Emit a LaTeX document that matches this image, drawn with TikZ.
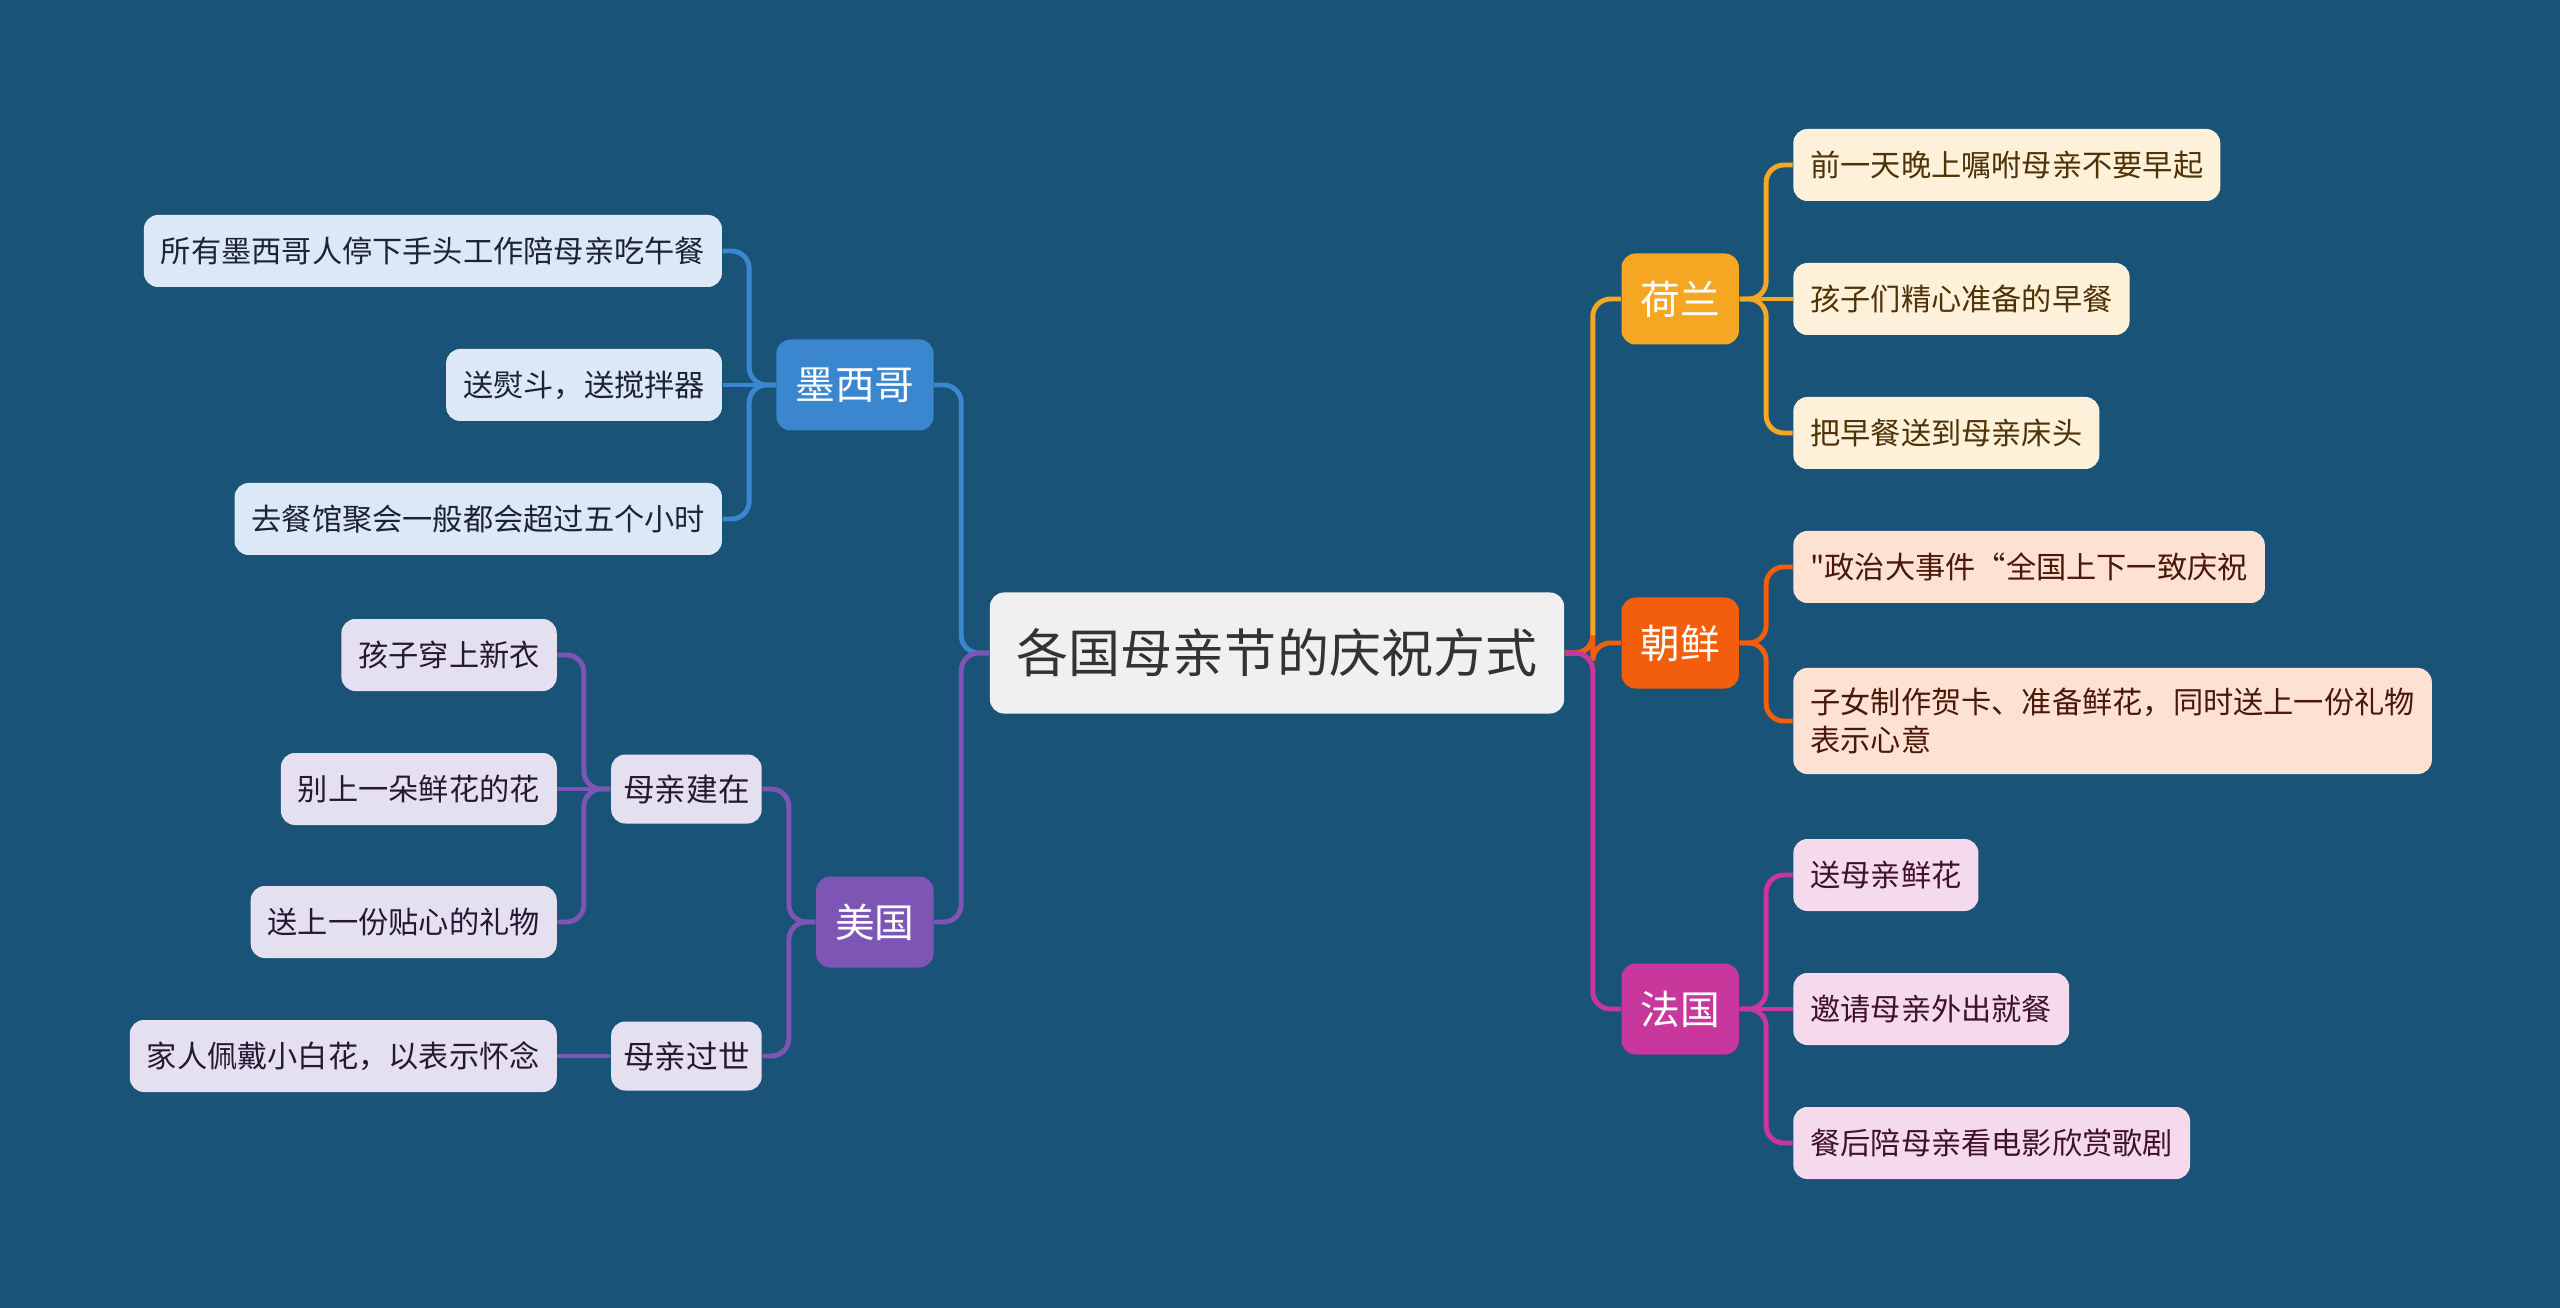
\documentclass[tikz,border=0pt]{standalone}
\usepackage{fontspec}
\setmainfont{Noto Sans CJK SC}[Ligatures=TeXOff]
\usetikzlibrary{positioning}

\definecolor{bg}{HTML}{1A5378}
\definecolor{rootgray}{HTML}{F0F0F0}
\definecolor{rootink}{HTML}{333333}
\definecolor{mexblue}{HTML}{3A86CF}
\definecolor{mexleaf}{HTML}{DCE8F5}
\definecolor{mexink}{HTML}{1C2434}
\definecolor{usapurple}{HTML}{7D55B5}
\definecolor{usaleaf}{HTML}{E5E0F0}
\definecolor{usaink}{HTML}{221A33}
\definecolor{nlorange}{HTML}{F5A623}
\definecolor{nlleaf}{HTML}{FDF1D9}
\definecolor{nlink}{HTML}{4F3206}
\definecolor{korange}{HTML}{F25E0C}
\definecolor{kleaf}{HTML}{FDE1D3}
\definecolor{kink}{HTML}{4A1808}
\definecolor{frpink}{HTML}{C8379C}
\definecolor{frleaf}{HTML}{F4DAEC}
\definecolor{frink}{HTML}{40102F}

\begin{document}
\begin{tikzpicture}[
    topic/.style={fill=rootgray, text=rootink, rounded corners=4pt, minimum height=1.21cm, inner xsep=0.27cm, font=\fontsize{14.8}{17}\selectfont},
    maintopic/.style={rounded corners=4pt, text=white, minimum height=0.91cm, inner xsep=0.19cm, font=\fontsize{11.3}{13}\selectfont},
    subtopic/.style={rounded corners=4pt, fill=usaleaf, text=usaink, minimum height=0.69cm, inner xsep=0.12cm, font=\fontsize{9}{10.8}\selectfont},
    detail/.style={rounded corners=4pt, minimum height=0.72cm, inner xsep=0.17cm, inner ysep=0.2cm, align=left, font=\fontsize{8.6}{10.8}\selectfont},
    mexdetail/.style={detail, fill=mexleaf, text=mexink},
    usadetail/.style={detail, fill=usaleaf, text=usaink},
    nldetail/.style={detail, fill=nlleaf, text=nlink},
    kdetail/.style={detail, fill=kleaf, text=kink},
    frdetail/.style={detail, fill=frleaf, text=frink},
    link/.style={line width=1.4pt, rounded corners=5pt},
    node distance=0.53cm,
  ]
    \fill[bg] (0,0) rectangle (25.6,-13.08);

    \node[topic] (root) at (12.77,-6.53) {各国母亲节的庆祝方式};

    \node[maintopic, fill=mexblue, left=0.55cm of root, yshift=2.68cm] (mexico) {墨西哥};
    \node[maintopic, fill=usapurple, left=0.55cm of root, yshift=-2.69cm] (usa) {美国};
    \node[maintopic, fill=nlorange, right=0.56cm of root, yshift=3.54cm] (nl) {荷兰};
    \node[maintopic, fill=korange, right=0.56cm of root, yshift=0.10cm] (korea) {朝鲜};
    \node[maintopic, fill=frpink, right=0.56cm of root, yshift=-3.56cm] (france) {法国};

    \node[mexdetail, left=of mexico, yshift=1.34cm] (lunch) {所有墨西哥人停下手头工作陪母亲吃午餐};
    \node[mexdetail, left=of mexico] (iron) {送熨斗，送搅拌器};
    \node[mexdetail, left=of mexico, yshift=-1.34cm] (restaurant) {去餐馆聚会一般都会超过五个小时};

    \node[subtopic, left=of usa, yshift=1.33cm] (alive) {母亲建在};
    \node[subtopic, left=of usa, yshift=-1.34cm] (passed) {母亲过世};
    \node[usadetail, left=of alive, yshift=1.34cm] (clothes) {孩子穿上新衣};
    \node[usadetail, left=of alive] (flower) {别上一朵鲜花的花};
    \node[usadetail, left=of alive, yshift=-1.33cm] (present) {送上一份贴心的礼物};
    \node[usadetail, left=of passed] (whiteflower) {家人佩戴小白花，以表示怀念};

    \node[nldetail, right=of nl, yshift=1.34cm] (sleep) {前一天晚上嘱咐母亲不要早起};
    \node[nldetail, right=of nl] (breakfast) {孩子们精心准备的早餐};
    \node[nldetail, right=of nl, yshift=-1.34cm] (bedside) {把早餐送到母亲床头};

    \node[kdetail, right=of korea, yshift=0.76cm] (event) {"政治大事件“全国上下一致庆祝};
    \node[kdetail, right=of korea, yshift=-0.78cm] (cards) {子女制作贺卡、准备鲜花，同时送上一份礼物\\表示心意};

    \node[frdetail, right=of france, yshift=1.34cm] (flowers) {送母亲鲜花};
    \node[frdetail, right=of france] (eatout) {邀请母亲外出就餐};
    \node[frdetail, right=of france, yshift=-1.34cm] (opera) {餐后陪母亲看电影欣赏歌剧};

    \draw[link, mexblue] (root.west) -- ++(-0.28,0) |- (mexico.east);
    \draw[link, usapurple] (root.west) -- ++(-0.28,0) |- (usa.east);
    \draw[link, nlorange] (root.east) -- ++(0.28,0) |- (nl.west);
    \draw[link, korange] (root.east) -- ++(0.28,0) |- (korea.west);
    \draw[link, frpink] (root.east) -- ++(0.28,0) |- (france.west);

    \draw[link, mexblue] (mexico.west) -- ++(-0.265,0) |- (lunch.east);
    \draw[link, mexblue] (mexico.west) -- (iron.east);
    \draw[link, mexblue] (mexico.west) -- ++(-0.265,0) |- (restaurant.east);

    \draw[link, usapurple] (usa.west) -- ++(-0.265,0) |- (alive.east);
    \draw[link, usapurple] (usa.west) -- ++(-0.265,0) |- (passed.east);
    \draw[link, usapurple] (alive.west) -- ++(-0.265,0) |- (clothes.east);
    \draw[link, usapurple] (alive.west) -- (flower.east);
    \draw[link, usapurple] (alive.west) -- ++(-0.265,0) |- (present.east);
    \draw[link, usapurple] (passed.west) -- (whiteflower.east);

    \draw[link, nlorange] (nl.east) -- ++(0.265,0) |- (sleep.west);
    \draw[link, nlorange] (nl.east) -- (breakfast.west);
    \draw[link, nlorange] (nl.east) -- ++(0.265,0) |- (bedside.west);

    \draw[link, korange] (korea.east) -- ++(0.265,0) |- (event.west);
    \draw[link, korange] (korea.east) -- ++(0.265,0) |- (cards.west);

    \draw[link, frpink] (france.east) -- ++(0.265,0) |- (flowers.west);
    \draw[link, frpink] (france.east) -- (eatout.west);
    \draw[link, frpink] (france.east) -- ++(0.265,0) |- (opera.west);
  \end{tikzpicture}
\end{document}
